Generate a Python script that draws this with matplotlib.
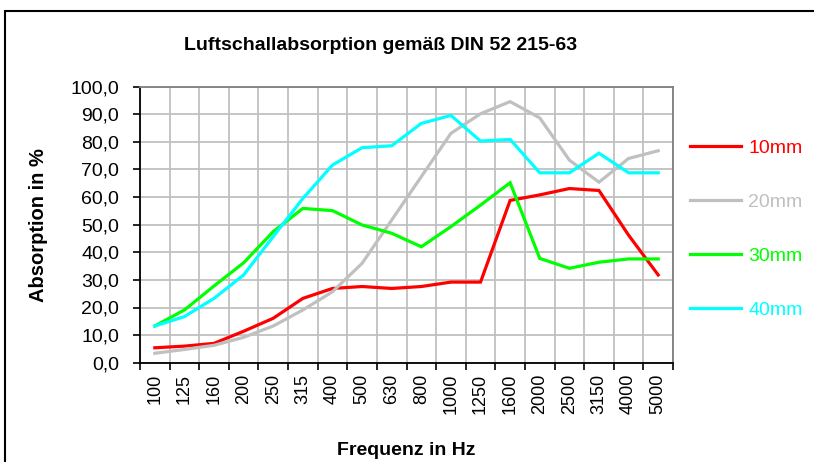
import matplotlib
matplotlib.use('Agg')
import matplotlib.pyplot as plt
from matplotlib.patches import Rectangle
from matplotlib.ticker import FuncFormatter, MultipleLocator
import numpy as np

plt.rcParams['font.family'] = ['Liberation Sans', 'DejaVu Sans']

# Terzbänder (Hz)
frequenzen = ['100', '125', '160', '200', '250', '315', '400', '500', '630',
              '800', '1000', '1250', '1600', '2000', '2500', '3150', '4000', '5000']

# Absorptionsgrad in % je Materialstärke
mm10 = [5.4, 6.0, 7.0, 11.4, 16.1, 23.3, 26.9, 27.6, 26.9, 27.6, 29.2, 29.2,
        58.8, 60.8, 63.1, 62.4, 46.2, 31.8]
mm20 = [3.4, 4.8, 6.3, 9.2, 13.3, 19.1, 25.7, 36.0, 51.7, 67.4, 83.1, 90.2,
        94.6, 88.7, 73.4, 65.4, 74.0, 76.8]
mm30 = [13.3, 19.1, 27.8, 36.2, 47.5, 55.9, 55.1, 49.9, 46.9, 42.0, 49.3, 57.1,
        65.2, 37.8, 34.2, 36.4, 37.6, 37.6]
mm40 = [13.3, 16.7, 23.3, 31.8, 45.7, 59.5, 71.6, 77.9, 78.6, 86.7, 89.6, 80.3,
        80.9, 68.8, 68.8, 75.9, 68.8, 68.8]

serien = [('10mm', mm10, '#ff0000'),
          ('20mm', mm20, '#c0c0c0'),
          ('30mm', mm30, '#00ff00'),
          ('40mm', mm40, '#00ffff')]

fig = plt.figure(figsize=(8.14, 4.62), dpi=100)
ax = fig.add_axes([140/814, 1 - 362.7/462, 533/814, 276/462])

# Rahmen des Diagrammbereichs (läuft rechts und unten aus dem Bild)
fig.patches.append(Rectangle((5/814, -0.5), 2.0, 1 - 11/462 + 0.5,
                             transform=fig.transFigure, fill=False,
                             edgecolor='black', linewidth=1.5, clip_on=False))

x = np.arange(len(frequenzen))
for name, werte, farbe in serien:
    ax.plot(x, werte, color=farbe, linewidth=2.3, label=name, solid_joinstyle='miter')

ax.set_xlim(-0.5, len(frequenzen) - 0.5)
ax.set_ylim(0, 100)
ax.yaxis.set_major_locator(MultipleLocator(10))
ax.yaxis.set_major_formatter(FuncFormatter(lambda v, p: f'{v:.1f}'.replace('.', ',')))

# Kategorien in der Mitte, Gitter und Ticks zwischen den Kategorien
ax.set_xticks(x)
ax.set_xticklabels(frequenzen, rotation=90, fontsize=13)
ax.set_xticks(np.arange(-0.5, len(frequenzen)), minor=True)
ax.tick_params(axis='x', which='major', length=0, pad=8)
ax.tick_params(axis='x', which='minor', length=5, width=1.2, direction='out')
ax.tick_params(axis='y', labelsize=14, length=5, width=1.2, direction='out', pad=10)
ax.grid(True, which='minor', axis='x', color='#c0c0c0', linewidth=1.3)
ax.grid(True, which='major', axis='y', color='#c0c0c0', linewidth=1.3)
ax.set_axisbelow(True)

for s in ['left', 'bottom']:
    ax.spines[s].set_linewidth(1.3)
    ax.spines[s].set_color('black')
for s in ['top', 'right']:
    ax.spines[s].set_linewidth(1.3)
    ax.spines[s].set_color('#808080')

ax.set_xlabel('Frequenz in Hz', fontsize=14, fontweight='bold', labelpad=20)
ax.set_ylabel('Absorption in %', fontsize=14.5, fontweight='bold', labelpad=16)
fig.text(381/814, 1 - 45/462, 'Luftschallabsorption gemäß DIN 52 215-63',
         ha='center', va='center', fontsize=14, fontweight='bold')

leg = ax.legend(loc='upper left', bbox_to_anchor=(690/814, 1 - 139/462),
                bbox_transform=fig.transFigure, frameon=False, fontsize=14,
                handlelength=2.6, handletextpad=0.4, labelspacing=1.88,
                labelcolor='linecolor', borderaxespad=0, borderpad=0)

fig.savefig('out.png', dpi=100)
